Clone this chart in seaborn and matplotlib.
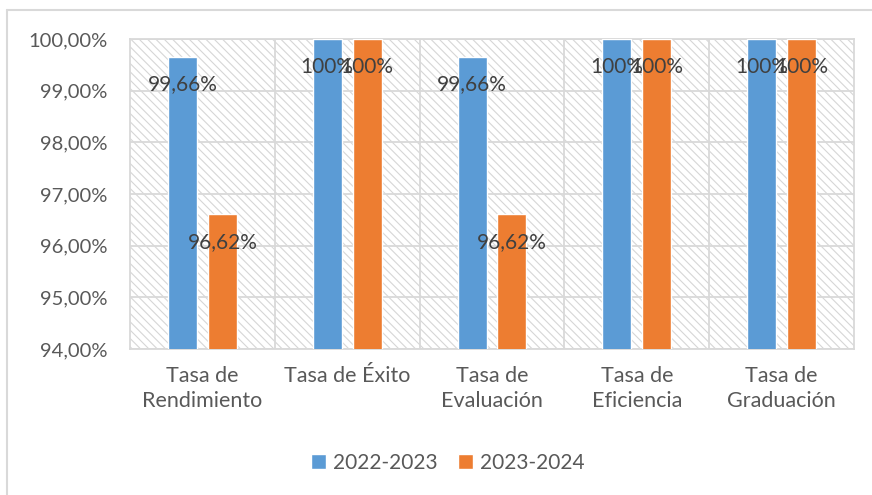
import matplotlib
matplotlib.use("Agg")
import matplotlib.pyplot as plt
import seaborn as sns
import pandas as pd
from matplotlib.patches import Rectangle
from matplotlib.lines import Line2D
from matplotlib.ticker import FixedLocator

categories = ["Tasa de\nRendimiento", "Tasa de Éxito", "Tasa de\nEvaluación",
              "Tasa de\nEficiencia", "Tasa de\nGraduación"]
series_names = ["2022-2023", "2023-2024"]
values_2022 = [99.66, 100.0, 99.66, 100.0, 100.0]
values_2023 = [96.62, 100.0, 96.62, 100.0, 100.0]
labels_2022 = ["99,66%", "100%", "99,66%", "100%", "100%"]
labels_2023 = ["96,62%", "100%", "96,62%", "100%", "100%"]
yticks = [94, 95, 96, 97, 98, 99, 100]
ytick_labels = ["94,00%", "95,00%", "96,00%", "97,00%", "98,00%", "99,00%", "100,00%"]
colors = ["#5B9BD5", "#ED7D31"]

sns.set_theme(style="white")
plt.rcParams["font.family"] = ["Lato", "DejaVu Sans"]
plt.rcParams["hatch.color"] = "#d6d6d6"
plt.rcParams["hatch.linewidth"] = 0.8

df = pd.DataFrame({
    "cat": categories * 2,
    "val": values_2022 + values_2023,
    "year": [series_names[0]] * 5 + [series_names[1]] * 5,
})

fig = plt.figure(figsize=(8.72, 4.95), dpi=100)
ax = fig.add_axes([130 / 872, 1 - 349 / 495, (854 - 130) / 872, (349 - 39) / 495])

bg = Rectangle((0, 0), 1, 1, transform=ax.transAxes, facecolor="white",
               edgecolor="#d6d6d6", hatch="\\\\\\\\", lw=0, zorder=0)
ax.add_patch(bg)

sns.barplot(data=df, x="cat", y="val", hue="year", palette=colors, ax=ax,
            width=0.552, gap=0.275, saturation=1, zorder=3, legend=True)

ax.set_ylim(94, 100)
ax.set_xlim(-0.5, len(categories) - 0.5)
ax.yaxis.set_major_locator(FixedLocator(yticks))
ax.set_yticklabels(ytick_labels)
ax.set_xlabel("")
ax.set_ylabel("")

ax.xaxis.set_minor_locator(FixedLocator([i + 0.5 for i in range(len(categories) - 1)]))
ax.grid(True, which="major", axis="y", color="#d9d9d9", lw=1.3, zorder=1)
ax.grid(True, which="minor", axis="x", color="#d9d9d9", lw=1.3, zorder=1)
ax.grid(False, which="major", axis="x")
ax.set_axisbelow(True)
for s in ax.spines.values():
    s.set_color("#d9d9d9")
    s.set_linewidth(1.3)
    s.set_visible(True)

ax.tick_params(axis="both", which="both", length=0)
ax.tick_params(axis="y", pad=16, labelsize=14.5, labelcolor="#595959")
ax.tick_params(axis="x", pad=12, labelsize=15.5, labelcolor="#595959")
for t in ax.get_xticklabels():
    t.set_linespacing(1.35)

for container, labs in zip(ax.containers, [labels_2022, labels_2023]):
    for bar, lab in zip(container, labs):
        x = bar.get_x() + bar.get_width() / 2
        y = bar.get_y() + bar.get_height()
        y = min(y, 100)
        ax.annotate(lab, (x, y), xytext=(0, -28), textcoords="offset pixels",
                    ha="center", va="center", fontsize=15, color="#404040",
                    zorder=5, annotation_clip=False)

leg = ax.get_legend()
handles = leg.legend_handles
leg.remove()
fig.legend(handles, series_names, loc="center",
           bbox_to_anchor=(448 / 872, 1 - 463 / 495), ncol=2, frameon=False,
           fontsize=15, labelcolor="#595959", handlelength=0.7, handleheight=0.7,
           handletextpad=0.35, columnspacing=1.0)

fig.add_artist(Line2D([7 / 872, 1], [1 - 10 / 495, 1 - 10 / 495],
                      transform=fig.transFigure, color="#d9d9d9", lw=1.5))
fig.add_artist(Line2D([7 / 872, 7 / 872], [0, 1 - 10 / 495],
                      transform=fig.transFigure, color="#d9d9d9", lw=1.5))

fig.savefig("out.png", dpi=100)
